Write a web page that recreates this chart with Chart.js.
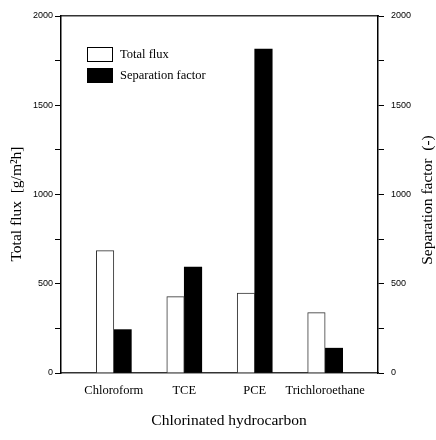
<!DOCTYPE html>
<html>
<head>
<meta charset="utf-8">
<script src="https://cdn.jsdelivr.net/npm/chart.js@4/dist/chart.umd.min.js"></script>
<style>
  html, body { margin: 0; padding: 0; background: #fff; }
  #wrap { width: 436px; height: 440px; }
</style>
</head>
<body>
<div id="wrap"><canvas id="fluxChart"></canvas></div>
<script>
// --- data ---
const categories = ['Chloroform', 'TCE', 'PCE', 'Trichloroethane'];
const totalFlux = [686, 428, 448, 338];        // g/m2h, left axis
const separationFactor = [243, 594, 1815, 139]; // (-), right axis
const yTicks = [0, 250, 500, 750, 1000, 1250, 1500, 1750, 2000];

const SERIF = '"Liberation Serif", "Times New Roman", serif';
const SANS = '"Liberation Sans", Arial, sans-serif';

const pos = categories.map((c, i) => i + 1);

// pin the plot box to where it sits in the figure
function fix(size) {
  return scale => {
    if (scale.isHorizontal()) scale.height = size; else scale.width = size;
  };
}

// legend inside the plot + axis titles at their spots
const decor = {
  id: 'decor',
  afterDraw(chart) {
    const ctx = chart.ctx;
    ctx.save();
    ctx.font = '12.5px ' + SERIF;
    ctx.fillStyle = '#000';
    ctx.textBaseline = 'middle';
    ctx.textAlign = 'left';
    chart.data.datasets.forEach((ds, i) => {
      const y = 47 + i * 21;
      ctx.fillStyle = ds.backgroundColor;
      ctx.fillRect(87, y, 26, 15);
      ctx.strokeStyle = '#000';
      ctx.lineWidth = 1;
      ctx.strokeRect(87.5, y + 0.5, 25, 14);
      ctx.fillStyle = '#000';
      ctx.fillText(ds.label, 120, y + 8);
    });

    ctx.font = '15.5px ' + SERIF;
    ctx.textAlign = 'center';
    // bottom title
    ctx.fillText(chart.scales.x.options.title.text, 229, 421);
    // left title
    ctx.save();
    ctx.translate(17, 204);
    ctx.rotate(-Math.PI / 2);
    ctx.fillText(chart.scales.y.options.title.text, 0, 0);
    ctx.restore();
    // right title, reads upward like the left one
    ctx.save();
    ctx.translate(428, 200);
    ctx.rotate(-Math.PI / 2);
    ctx.fillText(chart.scales.y1.options.title.text, 0, 0);
    ctx.restore();
    ctx.restore();
  }
};

const yAxisCommon = {
  type: 'linear',
  min: 0,
  max: 2000,
  afterBuildTicks: scale => { scale.ticks = yTicks.map(v => ({ value: v })); },
  grid: { drawOnChartArea: false, tickLength: 6, color: '#000', tickWidth: 1 },
  border: { color: '#000', width: 1.5 },
  title: { display: false }
};

new Chart(document.getElementById('fluxChart'), {
  type: 'bar',
  data: {
    datasets: [
      {
        label: 'Total flux',
        data: pos.map((x, i) => ({ x: x, y: totalFlux[i] })),
        backgroundColor: '#ffffff',
        borderColor: '#333333',
        borderWidth: 1,
        borderSkipped: 'bottom',
        yAxisID: 'y'
      },
      {
        label: 'Separation factor',
        data: pos.map((x, i) => ({ x: x, y: separationFactor[i] })),
        backgroundColor: '#000000',
        borderColor: '#000000',
        borderWidth: 0,
        yAxisID: 'y1'
      }
    ]
  },
  options: {
    responsive: true,
    maintainAspectRatio: false,
    animation: false,
    layout: { padding: 0 },
    barThickness: 17.5,
    plugins: { legend: { display: false }, tooltip: { enabled: false } },
    scales: {
      x: {
        type: 'linear',
        position: 'bottom',
        min: 0.25,
        max: 4.75,
        offset: false,
        afterBuildTicks: scale => { scale.ticks = pos.map(v => ({ value: v })); },
        afterFit: fix(67),
        ticks: {
          callback: v => categories[v - 1] || '',
          font: { family: SERIF, size: 12.5 },
          color: '#000',
          padding: 10,
          maxRotation: 0,
          autoSkip: false
        },
        grid: { drawOnChartArea: false, drawTicks: false, offset: false },
        border: { color: '#333', width: 1.5, dash: [5, 2] },
        title: { display: false, text: 'Chlorinated hydrocarbon' }
      },
      xTop: {
        type: 'linear',
        position: 'top',
        min: 0.25,
        max: 4.75,
        afterFit: fix(16),
        ticks: { display: false },
        grid: { drawOnChartArea: false, drawTicks: false },
        border: { color: '#333', width: 1.5, dash: [5, 2] }
      },
      y: Object.assign({}, yAxisCommon, {
        position: 'left',
        afterFit: fix(61),
        ticks: {
          callback: v => (v % 500 === 0 ? String(v) : ''),
          font: { family: SANS, size: 9 },
          color: '#000',
          padding: 2
        },
        title: { display: false, text: 'Total flux  [g/m\u00b2h]' }
      }),
      y1: Object.assign({}, yAxisCommon, {
        position: 'right',
        afterFit: fix(58),
        ticks: {
          callback: v => (v % 500 === 0 ? String(v) : ''),
          font: { family: SANS, size: 9 },
          color: '#000',
          padding: 7
        },
        title: { display: false, text: 'Separation factor  (-)' }
      })
    }
  },
  plugins: [decor]
});
</script>
</body>
</html>
